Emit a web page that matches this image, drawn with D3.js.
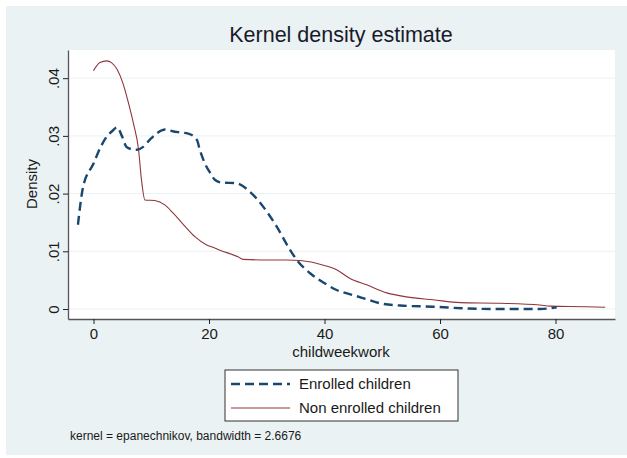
<!DOCTYPE html>
<html><head><meta charset="utf-8">
<script src="https://cdn.jsdelivr.net/npm/d3@7"></script>
<style>body{margin:0;background:#fff}svg{display:block}text{font-family:"Liberation Sans",Arial,sans-serif}</style>
</head><body>
<svg id="c" width="627" height="458"></svg>
<script>
const enrolled = [[-2.7,.0146],[-1.8,.0212],[0,.0252],[1.2,.0280],[2.3,.0299],[3.2,.0308],[4.1,.0315],[4.9,.0300],[5.7,.0281],[6.6,.0277],[7.5,.0276],[8.6,.0281],[9.8,.0294],[10.9,.0304],[12.4,.0311],[13.7,.0308],[15.0,.0306],[16.4,.0304],[17.9,.0293],[18.4,.0276],[19.3,.0252],[20.2,.0236],[21.0,.0224],[22.2,.0219],[24.8,.0218],[25.1,.0217],[27.1,.0203],[29.4,.0177],[31.7,.0143],[33.7,.0108],[35.2,.0085],[37.5,.0062],[39.8,.0046],[42.1,.0033],[45.0,.0024],[47.3,.0017],[49.6,.0010],[53.1,.0006],[58.8,.0004],[64.6,.0001],[70,.0000],[77.3,.0000],[80.2,.0003]];
const nonEnrolled = [[0,.0413],[1.1,.0427],[2.3,.0430],[3.1,.0427],[4.1,.0415],[5.1,.0391],[6.0,.0359],[6.9,.0322],[7.8,.0276],[8.3,.0224],[8.9,.0189],[10.6,.0188],[12.4,.0180],[13.8,.0166],[15.6,.0146],[17.6,.0125],[19.6,.0111],[20.7,.0107],[21.9,.0102],[25.1,.0090],[25.9,.0086],[30,.0085],[33.5,.0085],[35.8,.0084],[39.8,.0076],[42.1,.0068],[44.4,.0053],[47.3,.0042],[50.8,.0028],[54.2,.0021],[58.8,.0016],[63.5,.0011],[70.4,.0010],[77.3,.0007],[79.1,.0005],[85.4,.0004],[88.6,.0003]];
const xTicks = [0,20,40,60,80];
const yTicks = [0,.01,.02,.03,.04];
const yTickLabels = ["0",".01",".02",".03",".04"];
const seriesNames = ["Enrolled children","Non enrolled children"];

const svg = d3.select("#c");
svg.append("rect").attr("x",6).attr("y",6).attr("width",621).attr("height",449).attr("fill","#eaf2f3");
const L=68,R=615,T=50,B=319;
svg.append("rect").attr("x",L).attr("y",T).attr("width",R-L).attr("height",B-T).attr("fill","#fff");
const x = d3.scaleLinear().domain([-4.42,90.3]).range([L,R]);
const y = d3.scaleLinear().domain([-0.00173,0.04488]).range([B,T]);

// grid
svg.append("g").selectAll("line").data(yTicks).join("line")
 .attr("x1",L).attr("x2",R).attr("y1",d=>y(d)).attr("y2",d=>y(d))
 .attr("stroke","#eaf2f3").attr("stroke-width",1);

const line = d3.line().x(d=>x(d[0])).y(d=>y(d[1])).curve(d3.curveMonotoneX);
svg.append("path").datum(nonEnrolled).attr("d",line).attr("fill","none").attr("stroke","#90353b").attr("stroke-width",1.1);
svg.append("path").datum(enrolled).attr("d",line).attr("fill","none").attr("stroke","#1a476f").attr("stroke-width",2.4).attr("stroke-dasharray","9,5");

// axes
const xa = svg.append("g").attr("transform",`translate(0,${B})`)
 .call(d3.axisBottom(x).tickValues(xTicks).tickSize(5).tickPadding(4).tickSizeOuter(0));
const ya = svg.append("g").attr("transform",`translate(${L},0)`)
 .call(d3.axisLeft(y).tickValues(yTicks).tickFormat((d,i)=>yTickLabels[i]).tickSize(5).tickSizeOuter(0));
[xa,ya].forEach(a=>{a.select(".domain").attr("stroke","#555").attr("stroke-width",1.3);
 a.selectAll(".tick line").attr("stroke","#222");
 a.selectAll("text").attr("fill","#1a1a1a").style("font-size","15px").style("font-family","'Liberation Sans',Arial,sans-serif");});
ya.selectAll(".tick text").attr("transform","rotate(-90)").attr("x",0).attr("y",-9).attr("dy",0).attr("text-anchor","middle");

svg.append("text").attr("x",341).attr("y",42).attr("text-anchor","middle").attr("fill","#1a1a2a").style("font-size","21.5px").text("Kernel density estimate");
svg.append("text").attr("x",341).attr("y",357).attr("text-anchor","middle").attr("fill","#1a1a1a").style("font-size","15px").text("childweekwork");
svg.append("text").attr("transform","translate(37,184) rotate(-90)").attr("text-anchor","middle").attr("fill","#1a1a1a").style("font-size","15px").text("Density");

// legend
const lg = svg.append("g");
lg.append("rect").attr("x",225).attr("y",370).attr("width",233).attr("height",51).attr("fill","#fff").attr("stroke","#333").attr("stroke-width",1);
const styles=[{c:"#1a476f",w:2.4,d:"9,5"},{c:"#90353b",w:1.1,d:null}];
seriesNames.forEach((n,i)=>{
 const yy=384+i*24;
 lg.append("line").attr("x1",231).attr("x2",290).attr("y1",yy).attr("y2",yy).attr("stroke",styles[i].c).attr("stroke-width",styles[i].w).attr("stroke-dasharray",styles[i].d);
 lg.append("text").attr("x",299).attr("y",yy+5).attr("fill","#1a1a1a").style("font-size","15px").text(n);
});
svg.append("text").attr("x",70).attr("y",440).attr("fill","#1a1a1a").style("font-size","12px").text("kernel = epanechnikov, bandwidth = 2.6676");
</script></body></html>
